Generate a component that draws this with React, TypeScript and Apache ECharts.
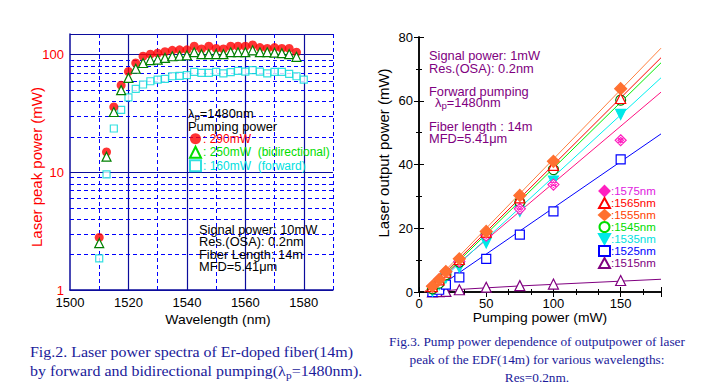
import React, { useEffect, useRef } from "react";
import * as echarts from "echarts";

// ---------- Fig.2 data (left) ----------
const wavelengths = [
  1510, 1512.5, 1515, 1517.5, 1520, 1522.5, 1525, 1527.5, 1530, 1532.5, 1535, 1537.5, 1540, 1542.5,
  1545, 1547.5, 1550, 1552.5, 1555, 1557.5, 1560, 1562.5, 1565, 1567.5, 1570, 1572.5, 1575, 1577.5,
];
const power290 = [
  2.8, 14.9, 36, 55, 72, 85, 97, 101, 103, 106, 109, 110, 110, 118, 112, 118, 113, 112, 118, 118, 118,
  121, 115, 113, 115, 113, 113, 105,
];
const power250 = [
  2.5, 13.6, 32.6, 50, 63.5, 76, 85, 90, 91, 94, 97, 98, 99, 105, 101, 101, 101, 101, 105, 105, 105,
  109, 105, 105, 104, 103, 101, 96,
];
const wavelengths160 = [...wavelengths, 1580];
const power160 = [
  1.86, 9.6, 23.6, 34, 43.4, 51.3, 55.8, 59.5, 61.5, 62.3, 65.6, 66, 67, 71.4, 70, 70, 71.4, 69.5, 71,
  72.8, 71.8, 74, 71.8, 69.5, 71.4, 71.4, 68.7, 65.6, 61.5,
];
const majorWaveLines = [1520, 1540, 1560, 1580];
const minorWaveLines = [1510, 1530, 1550, 1570, 1590];
const minorPowerLines = [2, 3, 4, 5, 6, 7, 8, 9, 20, 30, 40, 50, 60, 70, 80, 90];

// ---------- Fig.3 data (right) ----------
const pumpPower = [10, 15, 20, 30, 50, 75, 100, 150];
const out1575 = [1.8, 3.9, 6.3, 9.6, 17.7, 26.1, 33.7, 47.6];
const out1565 = [1.7, 3.8, 6.2, 10.2, 18.8, 29.5, 39.7, 60.7];
const out1555 = [1.8, 3.9, 6.4, 10.4, 19.0, 30.3, 41.0, 63.8];
const out1545 = [1.0, 2.8, 5.4, 9.4, 18.0, 28.2, 38.4, 60.2];
const out1535 = [0.3, 2.3, 4.4, 7.7, 15.4, 25.3, 34.8, 55.7];
const out1525 = [0, 0.7, 2.3, 4.6, 10.4, 18.0, 25.3, 41.6];
const out1515 = [0, 0.1, 0.2, 0.7, 1.5, 2.0, 2.5, 3.6];

const fit1575 = [[4, 0], [180, 62.7]];
const fit1565 = [[5, 0], [180, 73.5]];
const fit1555 = [[4, 0], [180, 76.5]];
const fit1545 = [[6, 0], [180, 71.9]];
const fit1535 = [[7, 0], [180, 67.2]];
const fit1525 = [[9, 0], [180, 49.6]];
const fit1515 = [[12, 0], [20, 0.4], [30, 0.8], [50, 1.3], [75, 1.9], [100, 2.4], [150, 3.4], [180, 4.0]];

const FONT = "'Liberation Sans', Arial, sans-serif";
const SERIF = "'Liberation Serif', 'DejaVu Serif', serif";
const NAVY = "#0c0c9c";
const BLUE = "#0000ff";
const PURPLE = "#800080";
const CAPTION = "#1a1a9a";

const pairs = (xs: number[], ys: number[]) => xs.map((x, i) => [x, ys[i]]);

const DIAMOND_X = "path://M0,-10L10,0L0,10L-10,0Z M-5,-5L5,5 M5,-5L-5,5 M0,-5L5,0L0,5L-5,0Z";
const DOWN_TRI = "path://M-10,-9L10,-9L0,9Z";

export default function App() {
  const ref = useRef<HTMLDivElement>(null);
  useEffect(() => {
    if (!ref.current) return;
    const chart = echarts.init(ref.current, undefined, { renderer: "svg" });

    const dashed = { color: BLUE, width: 1, type: [4, 3] as any };
    const solid = { color: NAVY, width: 1.2, type: "solid" as any };
    const gridMarks = {
      silent: true,
      symbol: ["none", "none"],
      label: { show: false },
      z: 1,
      emphasis: { disabled: true },
      data: [
        ...minorWaveLines.map((v) => ({ xAxis: v, lineStyle: dashed })),
        ...majorWaveLines.map((v) => ({ xAxis: v, lineStyle: solid })),
        ...minorPowerLines.map((v) => ({ yAxis: v, lineStyle: dashed })),
      ],
    };

    const rightMirrorX = {
      gridIndex: 1,
      type: "value",
      min: 0,
      max: 180,
      interval: 50,
      axisLine: { lineStyle: { color: "#000", width: 1.5 } },
      axisTick: { inside: true, length: 5, lineStyle: { color: "#000" } },
      minorTick: { show: true, splitNumber: 3, length: 3, lineStyle: { color: "#000" } },
      splitLine: { show: false },
    };
    const rightMirrorY = {
      gridIndex: 1,
      type: "value",
      min: 0,
      max: 80,
      interval: 20,
      axisLine: { lineStyle: { color: "#000", width: 1.5 } },
      axisTick: { inside: true, length: 5, lineStyle: { color: "#000" } },
      minorTick: { show: true, splitNumber: 2, length: 3, lineStyle: { color: "#000" } },
      splitLine: { show: false },
    };

    const lineSeries = (name: string, data: number[][], color: string) => ({
      name,
      type: "line",
      xAxisIndex: 1,
      yAxisIndex: 1,
      data,
      showSymbol: false,
      symbol: "none",
      lineStyle: { color, width: 1 },
      z: 2,
      silent: true,
    });
    const scat = (name: string, ys: number[], symbol: string, size: number, fill: string, stroke: string) => ({
      name,
      type: "scatter",
      xAxisIndex: 1,
      yAxisIndex: 1,
      data: pairs(pumpPower, ys),
      symbol,
      symbolSize: size,
      itemStyle: { color: fill, borderColor: stroke, borderWidth: 1.2, opacity: 1 },
      z: 3,
    });

    const sub = (main: string, rest: string, color: string, size: number, family: string) => ({
      text: `{a|${main}}{s|p}{a|${rest}}`,
      rich: {
        a: { fontSize: size, lineHeight: size + 4, fill: color, fontFamily: family },
        s: {
          fontSize: Math.round(size * 0.72),
          lineHeight: Math.round(size * 0.72),
          fill: color,
          fontFamily: family,
          verticalAlign: "bottom",
        },
      },
    });

    const txt = (
      x: number,
      y: number,
      text: string,
      color: string,
      size = 12,
      extra: any = {},
      el: any = { scaleX: 1.07 }
    ) => ({
      type: "text",
      x,
      y,
      silent: true,
      z: 10,
      ...el,
      style: {
        text,
        fill: color,
        fontSize: size,
        fontFamily: FONT,
        textVerticalAlign: "middle",
        ...extra,
      },
    });

    chart.setOption({
      animation: false,
      backgroundColor: "#ffffff",
      grid: [
        { left: 70, top: 34, width: 263, height: 256 },
        { left: 419, top: 37, width: 242, height: 255 },
      ],
      xAxis: [
        {
          gridIndex: 0,
          type: "value",
          min: 1500,
          max: 1590,
          interval: 20,
          axisLine: { lineStyle: { color: NAVY, width: 1.5 } },
          axisTick: { show: false },
          axisLabel: {
            color: "#000",
            fontSize: 13,
            lineHeight: 12,
            fontFamily: FONT,
            margin: 6,
            formatter: (v: number) => (v % 20 === 0 ? String(v) : ""),
          },
          splitLine: { show: false },
        },
        {
          ...rightMirrorX,
          axisLabel: {
            color: "#000",
            fontSize: 13,
            fontFamily: FONT,
            margin: 5,
            formatter: (v: number) => (v % 50 === 0 ? String(v) : ""),
          },
        },
        { ...rightMirrorX, position: "top", axisLabel: { show: false } },
      ],
      yAxis: [
        {
          gridIndex: 0,
          type: "log",
          logBase: 10,
          min: 1,
          max: 150,
          axisLine: { show: true, lineStyle: { color: NAVY, width: 1.5 } },
          axisTick: { show: false },
          axisLabel: {
            color: "#ff0000",
            fontSize: 13,
            lineHeight: 10,
            fontFamily: FONT,
            margin: 6,
            formatter: (v: number) => {
              const l = Math.log10(v);
              return Math.abs(l - Math.round(l)) < 1e-6 ? String(Math.round(v)) : "";
            },
          },
          splitLine: { show: true, lineStyle: { color: NAVY, width: 1.2 } },
        },
        {
          ...rightMirrorY,
          axisLabel: { color: "#000", fontSize: 13, fontFamily: FONT, margin: 6 },
        },
        { ...rightMirrorY, position: "right", axisLabel: { show: false } },
      ],
      legend: [
        {
          orient: "vertical",
          left: 189,
          top: 132,
          padding: 0,
          itemGap: 0,
          itemWidth: 11,
          itemHeight: 11,
          selectedMode: false,
          textStyle: { fontSize: 12, lineHeight: 13.5, fontFamily: FONT, padding: [0, 0, 0, -3] },
          data: [
            { name: ": 290mW", textStyle: { color: "#ff0000" } },
            {
              name: ": 250mW  (bidirectional)",
              textStyle: { color: "#00dd00" },
              itemStyle: { borderColor: "#00dd00" },
            },
            { name: ": 160mW  (forward)", textStyle: { color: "#00e0e0" } },
          ],
        },
        {
          orient: "vertical",
          left: 598,
          top: 185,
          padding: 0,
          itemGap: 0,
          itemWidth: 11,
          itemHeight: 10,
          selectedMode: false,
          textStyle: { fontSize: 11.5, lineHeight: 11.4, fontFamily: FONT, padding: [0, 0, 0, -4] },
          data: [
            { name: ":1575nm", textStyle: { color: "#e020e0" } },
            { name: ":1565nm", textStyle: { color: "#ff0000" } },
            { name: ":1555nm", textStyle: { color: "#ff4000" } },
            { name: ":1545nm", textStyle: { color: "#00dd00" }, itemStyle: { borderColor: "#00dd00" } },
            { name: ":1535nm", textStyle: { color: "#00e0e0" } },
            { name: ":1525nm", textStyle: { color: "#0000ff" } },
            { name: ":1515nm", textStyle: { color: PURPLE } },
          ],
        },
      ],
      series: [
        {
          name: ": 160mW  (forward)",
          type: "scatter",
          xAxisIndex: 0,
          yAxisIndex: 0,
          data: pairs(wavelengths160, power160),
          symbol: "rect",
          symbolSize: 7,
          itemStyle: { color: "#ffffff", borderColor: "#00d8d8", borderWidth: 1.2 },
          z: 3,
          markLine: gridMarks,
        },
        {
          name: ": 290mW",
          type: "scatter",
          xAxisIndex: 0,
          yAxisIndex: 0,
          data: pairs(wavelengths, power290),
          symbol: "circle",
          symbolSize: 9,
          itemStyle: { color: "#ff0000" },
          z: 3,
        },
        {
          name: ": 250mW  (bidirectional)",
          type: "scatter",
          xAxisIndex: 0,
          yAxisIndex: 0,
          data: pairs(wavelengths, power250),
          symbol: "triangle",
          symbolSize: 9,
          itemStyle: { color: "#ffffff", borderColor: "#008000", borderWidth: 1.2, opacity: 1 },
          z: 4,
        },
        lineSeries("fit1515", fit1515, PURPLE),
        lineSeries("fit1525", fit1525, "#0000ff"),
        lineSeries("fit1575", fit1575, "#ff1080"),
        lineSeries("fit1535", fit1535, "#00f0f0"),
        lineSeries("fit1545", fit1545, "#00ee00"),
        lineSeries("fit1565", fit1565, "#ff0000"),
        lineSeries("fit1555", fit1555, "#ff8040"),
        scat(":1515nm", out1515, "triangle", 10, "#ffffff", PURPLE),
        scat(":1525nm", out1525, "rect", 9, "#ffffff", "#0000ff"),
        scat(":1535nm", out1535, DOWN_TRI, 10, "#00e8e8", "#00e8e8"),
        scat(":1545nm", out1545, "circle", 10, "#ffffff", "#008000"),
        scat(":1575nm", out1575, DIAMOND_X, 11, "#ffffff", "#ff20c0"),
        scat(":1565nm", out1565, "triangle", 10, "#ffffff", "#ff0000"),
        scat(":1555nm", out1555, "diamond", 12, "#ff7030", "#ff7030"),
      ],
      graphic: [
        // Left chart annotations
        {
          type: "text",
          x: 188,
          y: 114,
          z: 10,
          scaleX: 1.07,
          silent: true,
          style: { ...sub("λ", "=1480nm", "#000", 12, FONT), textVerticalAlign: "middle" },
        },
        txt(188, 127, "Pumping power", "#000"),
        txt(199, 230, "Signal power: 10mW", "#000"),
        txt(199, 242, "Res.(OSA): 0.2nm", "#000"),
        txt(199, 255, "Fiber Length: 14m", "#000"),
        txt(199, 267, "MFD=5.41μm", "#000"),
        // Left axis names
        txt(218, 320, "Wavelength (nm)", "#000", 13, { textAlign: "center" }),
        {
          type: "text",
          x: 36,
          y: 167,
          rotation: Math.PI / 2,
          silent: true,
          style: {
            text: "Laser peak power (mW)",
            fill: "#ff0000",
            fontSize: 15,
            fontFamily: FONT,
            textAlign: "center",
            textVerticalAlign: "middle",
          },
        },
        // Right chart annotations
        txt(429, 56, "Signal power: 1mW", PURPLE),
        txt(429, 69, "Res.(OSA): 0.2nm", PURPLE),
        txt(429, 92, "Forward pumping", PURPLE),
        {
          type: "text",
          x: 435,
          y: 103,
          z: 10,
          scaleX: 1.07,
          silent: true,
          style: { ...sub("λ", "=1480nm", PURPLE, 12, FONT), textVerticalAlign: "middle" },
        },
        txt(429, 127, "Fiber length : 14m", PURPLE),
        txt(429, 139, "MFD=5.41μm", PURPLE),
        // Right axis names
        txt(540, 318, "Pumping power (mW)", "#000", 13, { textAlign: "center" }),
        {
          type: "text",
          x: 383,
          y: 153,
          rotation: Math.PI / 2,
          silent: true,
          style: {
            text: "Laser output power (mW)",
            fill: "#000",
            fontSize: 15,
            fontFamily: FONT,
            textAlign: "center",
            textVerticalAlign: "middle",
          },
        },
        // Captions
        txt(30, 352, "Fig.2. Laser power spectra of Er-doped fiber(14m)", CAPTION, 14, { fontFamily: SERIF }, { scaleX: 1.14 }),
        {
          type: "text",
          x: 30,
          y: 371,
          scaleX: 1.14,
          silent: true,
          style: {
            ...sub("by forward and bidirectional pumping(λ", "=1480nm).", CAPTION, 14, SERIF),
            textVerticalAlign: "middle",
          },
        },
        txt(537, 342, "Fig.3. Pump power dependence of outputpower of laser", CAPTION, 12, {
          fontFamily: SERIF,
          textAlign: "center",
        }, { scaleX: 1.11 }),
        txt(537, 360, "peak of the EDF(14m) for various wavelengths:", CAPTION, 12, {
          fontFamily: SERIF,
          textAlign: "center",
        }, { scaleX: 1.11 }),
        txt(537, 378, "Res=0.2nm.", CAPTION, 12, { fontFamily: SERIF, textAlign: "center" }, { scaleX: 1.11 }),
      ],
    });
    return () => chart.dispose();
  }, []);

  return (
    <div
      ref={ref}
      style={{ position: "fixed", left: 0, top: 0, width: 713, height: 392, background: "#fff" }}
    />
  );
}
